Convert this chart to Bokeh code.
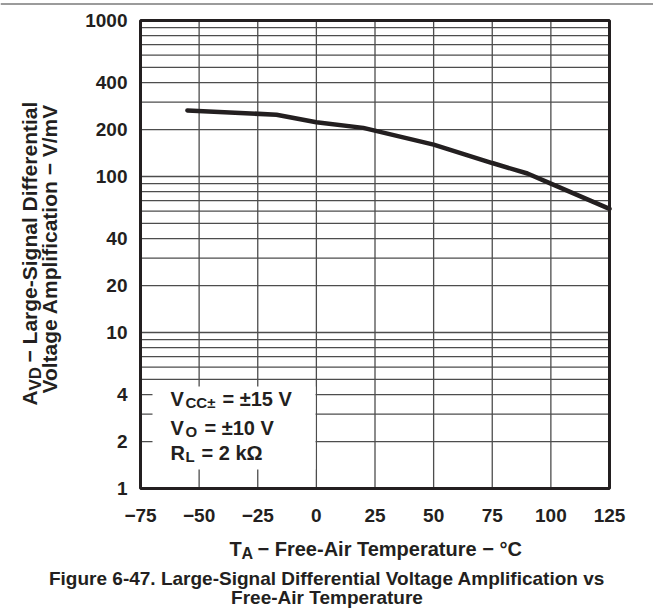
from math import pi
from bokeh.plotting import figure
from bokeh.models import Range1d
from bokeh.core.properties import value
from bokeh.embed import file_html
from bokeh.resources import INLINE

# ---- data ----
temp_c = [-55, -17, 0, 20, 50, 75, 90, 100, 125]
avd_v_per_mv = [265, 249, 223, 205, 160, 122, 104.5, 90, 62]

x_ticks = [-75, -50, -25, 0, 25, 50, 75, 100, 125]
x_tick_labels = ["\u221275", "\u221250", "\u221225", "0", "25", "50", "75", "100", "125"]
y_ticks = [1, 2, 4, 10, 20, 40, 100, 200, 400, 1000]
y_tick_labels = ["1", "2", "4", "10", "20", "40", "100", "200", "400", "1000"]
y_grid_values = [m * 10 ** e for e in range(3) for m in range(1, 10)] + [1000]
x_grid_values = x_ticks

FONT = "Liberation Sans"
INK = "#231f20"
GRID = "#4d4d4d"

X0, X1 = -75, 125
Y0, Y1 = 1, 1000

W, H = 653, 611
# plot-area position in the picture (px)
PL, PR, PT, PB = 140, 609, 20, 488


def dx(px):
    return X0 + (px - PL) * (X1 - X0) / (PR - PL)


def dy(py):
    return 10 ** ((PB - py) / ((PB - PT) / 3.0))


# the frame covers the whole canvas, so that every text is drawn inside it
p = figure(
    width=W, height=H, min_border=0,
    min_border_left=0, min_border_right=0, min_border_top=0, min_border_bottom=0,
    x_range=Range1d(dx(0), dx(W)), y_range=Range1d(dy(H), dy(0)),
    y_axis_type="log", x_axis_location=None, y_axis_location=None,
    output_backend="svg", toolbar_location=None,
    background_fill_color="white", border_fill_color="white",
)
p.outline_line_color = None
p.grid.visible = False

# top rule of the page
p.segment(x0=[dx(0)], y0=[dy(3.5)], x1=[dx(W)], y1=[dy(3.5)],
          line_color="#7a7a7a", line_width=1.6)

# grid lines
vx = x_grid_values[1:-1]
p.segment(x0=vx, y0=[Y0] * len(vx), x1=vx, y1=[Y1] * len(vx),
          line_color=GRID, line_width=1.3)
hy = y_grid_values[1:-1]
p.segment(x0=[X0] * len(hy), y0=hy, x1=[X1] * len(hy), y1=hy,
          line_color=GRID, line_width=1.3)

# white box that holds the test conditions
p.quad(left=[dx(152)], right=[dx(315)], bottom=[dy(469)], top=[dy(386)],
       fill_color="white", line_color=None)

# curve
p.line(temp_c, avd_v_per_mv, line_color=INK, line_width=4.5, line_cap="round")

# plot-area border
p.quad(left=[X0], right=[X1], bottom=[Y0], top=[Y1],
       fill_color=None, line_color=INK, line_width=3)


def txt(x, y, text, size=20, angle=0.0, align="left", baseline="alphabetic"):
    xs = x if isinstance(x, list) else [x]
    ys = y if isinstance(y, list) else [y]
    ts = text if isinstance(text, list) else [text]
    n = max(len(xs), len(ys), len(ts))
    xs = xs * n if len(xs) == 1 else xs
    ys = ys * n if len(ys) == 1 else ys
    ts = ts * n if len(ts) == 1 else ts
    p.text(x=xs, y=ys, text=ts, angle=angle,
           text_font=value(FONT), text_font_style="bold",
           text_font_size=value(f"{size}px"), text_color=INK,
           text_align=align, text_baseline=baseline)


# tick labels
txt(x_ticks, dy(515), x_tick_labels, 19, 0, "center", "middle")
txt(dx(127), y_ticks, y_tick_labels, 19, 0, "right", "middle")

# test conditions
txt(dx(170), dy(398), "V")
txt(dx(185), dy(402), "CC\u00b1", 15)
txt(dx(222), dy(398), "= \u00b115 V")
txt(dx(170), dy(427), "V")
txt(dx(185), dy(431), "O", 15)
txt(dx(204), dy(427), "= \u00b110 V")
txt(dx(170), dy(452), "R")
txt(dx(185), dy(456), "L", 15)
txt(dx(201), dy(452), "= 2 k\u03a9")

# y axis title (rotated)
txt(dx(28.5), dy(405), "A", 21, pi / 2)
txt(dx(34.5), dy(390), "VD", 17, pi / 2)
txt(dx(28.5), dy(362), "\u2212 Large-Signal Differential", 21, pi / 2)
txt(dx(49), dy(393), "Voltage Amplification \u2212 V/mV", 21, pi / 2)

# x axis title
txt(dx(229), dy(548), "T")
txt(dx(241), dy(553), "A", 16)
txt(dx(257), dy(548), "\u2212 Free-Air Temperature \u2212 \u00b0C")

# figure caption
txt(dx(326.5), dy(578), "Figure 6-47. Large-Signal Differential Voltage Amplification vs", 19, 0, "center")
txt(dx(326.5), dy(597), "Free-Air Temperature", 19, 0, "center")

open("out.html", "w").write(file_html(p, INLINE))
